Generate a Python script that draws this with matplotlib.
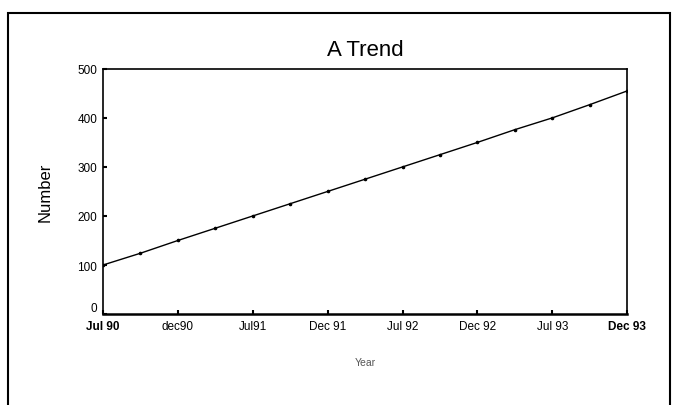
import matplotlib.pyplot as plt
from matplotlib.patches import Rectangle

plt.rcParams['font.family'] = ['Liberation Sans', 'DejaVu Sans']

# data: half-year categories with midpoints between them
tick_labels = ["Jul 90", "dec90", "Jul91", "Dec 91", "Jul 92", "Dec 92", "Jul 93", "Dec 93"]
positions = [i * 0.5 for i in range(15)]
values = [100, 124, 150, 175, 200, 225, 250, 275, 300, 325, 350, 376, 400, 427, 455]
y_ticks = [0, 100, 200, 300, 400, 500]

fig = plt.figure(figsize=(6.73, 4.06), dpi=100)
ax = fig.add_axes([0.153, 0.224, 0.779, 0.604])

ax.plot(positions, values, color="black", linewidth=1.0, marker="o", markersize=1.6)

ax.set_xlim(0, len(tick_labels) - 1)
ax.set_ylim(0, 500)
ax.set_xticks(range(len(tick_labels)))
ax.set_xticklabels(tick_labels, fontsize=8.5)
ax.set_yticks(y_ticks)
ax.set_yticklabels([str(v) for v in y_ticks], fontsize=8.5)
for lbl in (ax.get_xticklabels()[0], ax.get_xticklabels()[-1]):
    lbl.set_fontweight("bold")
ax.get_yticklabels()[0].set_verticalalignment("bottom")
ax.tick_params(direction="in", length=3, width=1.5, pad=4)

for s in ax.spines.values():
    s.set_linewidth(1.2)
ax.spines["bottom"].set_linewidth(1.8)

ax.set_title("A Trend", fontsize=16, pad=10)
ax.set_ylabel("Number", fontsize=12, labelpad=18)
ax.set_xlabel("Year", fontsize=7.5, color="#555555", labelpad=18)

# outer frame of the chart
fig.patches.append(Rectangle((8 / 673, -0.01), 662 / 673, 1 - 14 / 406 + 0.01,
                             transform=fig.transFigure, fill=False,
                             edgecolor="black", linewidth=1.5))

fig.savefig("out.png", dpi=100)
